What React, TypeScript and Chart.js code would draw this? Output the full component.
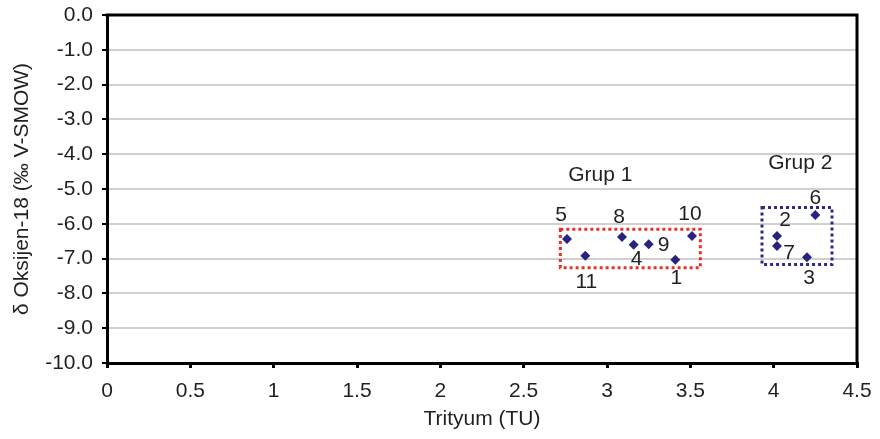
import React, { useEffect, useRef } from 'react';
import { Chart, registerables } from 'chart.js';

Chart.register(...registerables);

// ---- data ----
const sampleIds = ['1', '2', '3', '4', '5', '6', '7', '8', '9', '10', '11'];
const tritiumTU = [3.41, 4.02, 4.2, 3.16, 2.76, 4.25, 4.02, 3.09, 3.25, 3.51, 2.87];
const oxygen18 = [-7.03, -6.35, -6.96, -6.6, -6.44, -5.75, -6.64, -6.38, -6.59, -6.35, -6.92];

const groupNames = ['Grup 1', 'Grup 2'];
const groupTritiumMin = [2.72, 3.93];
const groupTritiumMax = [3.56, 4.35];
const groupOxygenMin = [-7.26, -7.17];
const groupOxygenMax = [-6.16, -5.53];
const groupLabelTritium = [2.96, 4.16];
const groupLabelOxygen = [-4.6, -4.27];

// ---- styles ----
const FONT = 'Arial, "Liberation Sans", Helvetica, sans-serif';
const FONT_SIZE = 21;
const TEXT = '#231F20';
const MARKER = '#28237F';
const groupColors = ['#E8302A', '#2B2A86'];
// pixel offsets of the sample-number labels relative to their points
const labelOffsets: [number, number][] = [
  [1, 19], [8, -16], [2, 21], [3, 15], [-6, -24], [0, -17],
  [12, 7], [-3, -20], [15, 1], [-2, -22], [1, 26],
];

const annotationPlugin = {
  id: 'annotations',
  afterDatasetsDraw(chart: any) {
    const { ctx, chartArea, scales } = chart;
    const xs = scales.x;
    const ys = scales.y;
    ctx.save();
    // frame top & right
    ctx.strokeStyle = '#000';
    ctx.lineWidth = 3;
    ctx.beginPath();
    ctx.moveTo(chartArea.left - 1.5, chartArea.top);
    ctx.lineTo(chartArea.right, chartArea.top);
    ctx.lineTo(chartArea.right, chartArea.bottom + 1.5);
    ctx.stroke();

    // group boxes
    groupNames.forEach((name, i) => {
      const x1 = xs.getPixelForValue(groupTritiumMin[i]);
      const x2 = xs.getPixelForValue(groupTritiumMax[i]);
      const y1 = ys.getPixelForValue(groupOxygenMax[i]);
      const y2 = ys.getPixelForValue(groupOxygenMin[i]);
      ctx.strokeStyle = groupColors[i];
      ctx.lineWidth = 3;
      ctx.setLineDash([3, 3]);
      ctx.strokeRect(x1, y1, x2 - x1, y2 - y1);
      ctx.setLineDash([]);
      ctx.fillStyle = TEXT;
      ctx.font = `${FONT_SIZE}px ${FONT}`;
      ctx.textAlign = 'center';
      ctx.textBaseline = 'middle';
      ctx.fillText(name, xs.getPixelForValue(groupLabelTritium[i]), ys.getPixelForValue(groupLabelOxygen[i]));
    });

    // sample labels
    ctx.fillStyle = TEXT;
    ctx.font = `${FONT_SIZE}px ${FONT}`;
    ctx.textAlign = 'center';
    ctx.textBaseline = 'middle';
    sampleIds.forEach((id, i) => {
      const px = xs.getPixelForValue(tritiumTU[i]);
      const py = ys.getPixelForValue(oxygen18[i]);
      const [dx, dy] = labelOffsets[i];
      ctx.fillText(id, px + dx, py + dy);
    });
    ctx.restore();
  },
};

const zeroPad = (s: any) => {
  s.paddingTop = 0;
  s.paddingBottom = 0;
  s.paddingLeft = 0;
  s.paddingRight = 0;
};

export default function App() {
  const canvasRef = useRef<HTMLCanvasElement | null>(null);

  useEffect(() => {
    document.body.style.margin = '0';
    const canvas = canvasRef.current;
    if (!canvas) return;
    const chart = new Chart(canvas, {
      type: 'scatter',
      data: {
        datasets: [
          {
            label: 'δ18O',
            data: tritiumTU.map((x, i) => ({ x, y: oxygen18[i] })),
            backgroundColor: MARKER,
            borderColor: MARKER,
            pointStyle: 'rectRot',
            pointRadius: 5,
            pointHoverRadius: 5,
            borderWidth: 0,
          },
        ],
      },
      options: {
        responsive: false,
        animation: false,
        events: [],
        layout: { padding: { top: 15, right: 23, left: 0, bottom: 0 } },
        plugins: {
          legend: { display: false },
          tooltip: { enabled: false },
        },
        scales: {
          x: {
            type: 'linear',
            min: 0,
            max: 4.5,
            afterFit: (s: any) => { s.height = 76; zeroPad(s); },
            ticks: {
              stepSize: 0.5,
              color: TEXT,
              font: { family: FONT, size: FONT_SIZE },
              padding: 11,
              maxRotation: 0,
              callback: (v: any) => String(v),
            },
            grid: {
              drawOnChartArea: false,
              color: '#000',
              tickColor: '#000',
              tickLength: 5,
              lineWidth: 3,
            },
            border: { color: '#000', width: 3 },
            title: {
              display: true,
              text: 'Trityum (TU)',
              color: TEXT,
              font: { family: FONT, size: FONT_SIZE },
              padding: { top: 0, bottom: 7 },
            },
          },
          y: {
            type: 'linear',
            min: -10,
            max: 0,
            afterFit: (s: any) => { s.width = 107; zeroPad(s); },
            ticks: {
              stepSize: 1,
              color: TEXT,
              font: { family: FONT, size: FONT_SIZE },
              padding: 9,
              callback: (v: any) => Number(v).toFixed(1),
            },
            grid: {
              color: '#D0D0D0',
              lineWidth: 2,
              tickColor: '#000',
              tickLength: 5,
            },
            border: { color: '#000', width: 3 },
            title: {
              display: true,
              text: 'δ Oksijen-18 (‰ V-SMOW)',
              color: TEXT,
              font: { family: FONT, size: FONT_SIZE },
              padding: { top: 10, bottom: 0 },
            },
          },
        },
      },
      plugins: [annotationPlugin],
    });
    return () => chart.destroy();
  }, []);

  return (
    <div style={{ position: 'absolute', left: 0, top: 0, width: 880, height: 439 }}>
      <canvas ref={canvasRef} width={880} height={439} />
    </div>
  );
}
